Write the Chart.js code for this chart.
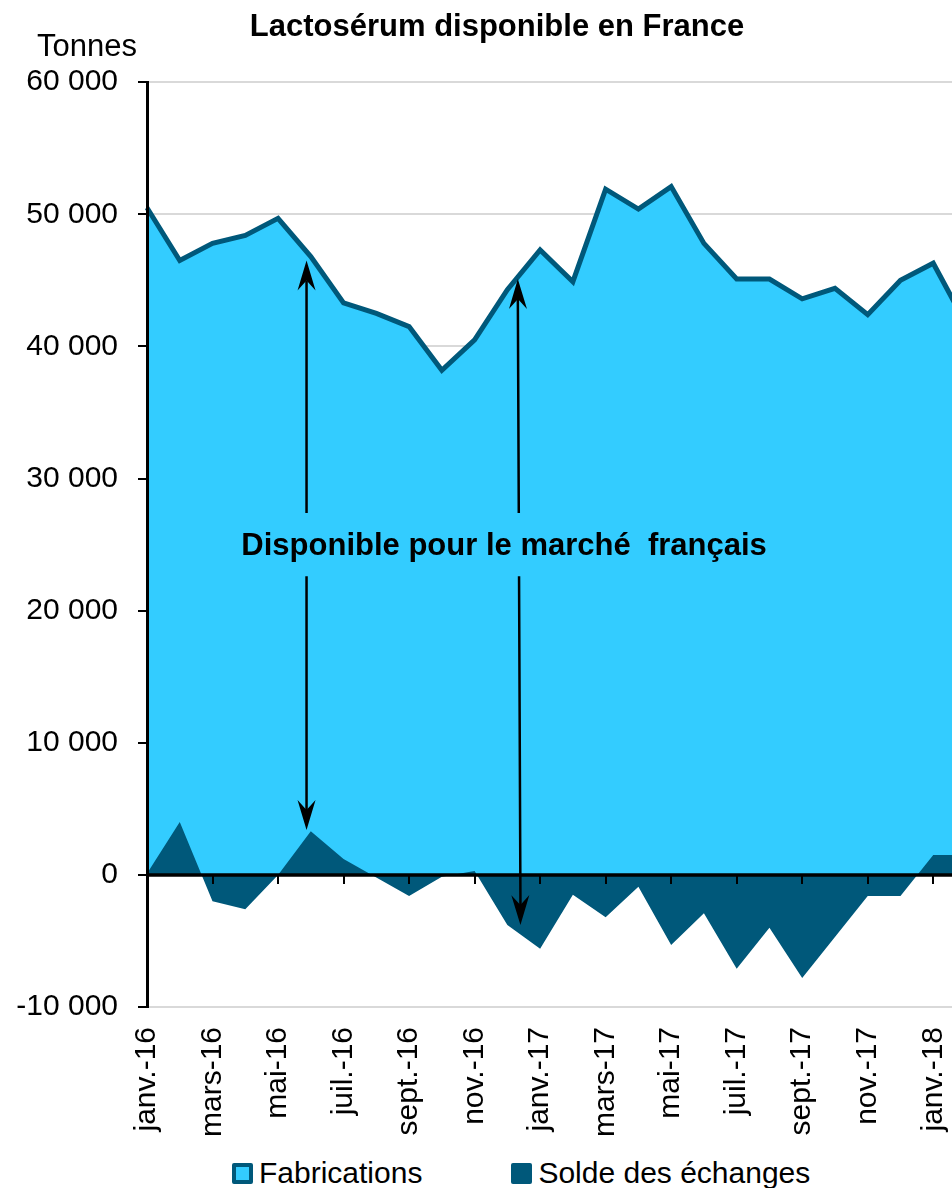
<!DOCTYPE html>
<html lang="fr">
<head>
<meta charset="utf-8">
<title>Lactosérum disponible en France</title>
<script src="https://cdn.jsdelivr.net/npm/chart.js@4.4.1/dist/chart.umd.min.js"></script>
<style>
  html, body { margin: 0; padding: 0; background: #fff; overflow: hidden; }
  #wrap { position: relative; width: 994px; height: 1188px; }
  #chartBox { position: absolute; left: 0; top: 0; width: 994px; height: 1150px; }
  #legend { position: absolute; left: 232px; top: 1158px; height: 30px; display: flex; align-items: center;
            font: 30px "Liberation Sans", Arial, sans-serif; color: #000; white-space: nowrap; }
  .item { display: flex; align-items: center; margin-right: 89px; line-height: 30px; }
  .box { width: 21px; height: 21px; box-sizing: border-box; margin-right: 6px; border-radius: 2px; }
</style>
</head>
<body>
<div id="wrap">
  <div id="chartBox"><canvas id="chart"></canvas></div>
  <div id="legend"></div>
</div>
<script>
'use strict'

const months = ['janv.-16', 'févr.-16', 'mars-16', 'avr.-16', 'mai-16', 'juin-16', 'juil.-16', 'août-16',
    'sept.-16', 'oct.-16', 'nov.-16', 'déc.-16', 'janv.-17', 'févr.-17', 'mars-17', 'avr.-17', 'mai-17',
    'juin-17', 'juil.-17', 'août-17', 'sept.-17', 'oct.-17', 'nov.-17', 'déc.-17', 'janv.-18', 'févr.-18'];
const fabrications = [50500, 46500, 47800, 48400, 49700, 46800, 43300, 42500, 41500, 38200, 40500, 44300,
    47300, 44900, 51900, 50400, 52100, 47800, 45100, 45100, 43600, 44400, 42400, 45000, 46300, 41700];
const solde = [100, 4000, -2000, -2600, 0, 3300, 1200, -200, -1600, -150, 300, -3800,
    -5600, -1500, -3200, -900, -5300, -2900, -7100, -4000, -7800, -4700, -1600, -1600, 1500, 1500];
const yMin = -10000;
const yMax = 60000;
const yStep = 10000;

const chartTitle = 'Lactosérum disponible en France';
const unitLabel = 'Tonnes';
const annotationText = 'Disponible pour le marché  français';

// annotation anchors, in axis units (month index, tonnes)
const annotationPos = { x: 10.9, y: 24250 };
const arrows = [
    { xTop: 4.87, top: 46500, xBottom: 4.87, bottom: 3400 },
    { xTop: 11.32, top: 45100, xBottom: 11.4, bottom: -3800 }
];
const arrowGap = { top: 27400, bottom: 22600 };

const lightBlue = '#33CCFF';
const darkBlue = '#00587A';
const fontFamily = '"Liberation Sans", Arial, sans-serif';

Chart.defaults.font.family = fontFamily;
Chart.defaults.color = '#000';

function formatTick(v){
    return String(v).replace(/\B(?=(\d{3})+(?!\d))/g, ' ');
}

function drawArrowHead(ctx, tipX, tipY, fromX, fromY){
    const ang = Math.atan2(tipY - fromY, tipX - fromX);
    ctx.save();
    ctx.translate(tipX, tipY);
    ctx.rotate(ang);
    ctx.beginPath();
    ctx.moveTo(0, 0);
    ctx.lineTo(-30, -9);
    ctx.lineTo(-20, 0);
    ctx.lineTo(-30, 9);
    ctx.closePath();
    ctx.fill();
    ctx.restore();
}

const extras = {
    id: 'extras',
    afterDatasetsDraw(chart){
        const ctx = chart.ctx;
        const xs = chart.scales.x;
        const ys = chart.scales.y;
        const area = chart.chartArea;
        ctx.save();

        // zero line with its tick marks
        const y0 = ys.getPixelForValue(0);
        ctx.strokeStyle = '#000';
        ctx.lineWidth = 3.5;
        ctx.beginPath();
        ctx.moveTo(area.left, y0);
        ctx.lineTo(area.right, y0);
        ctx.stroke();
        ctx.lineWidth = 2;
        ctx.beginPath();
        for (let i = 2; i < months.length; i += 2){
            const px = Math.round(xs.getPixelForValue(i));
            ctx.moveTo(px, y0);
            ctx.lineTo(px, y0 + 9);
        }
        ctx.stroke();

        // double arrows
        ctx.fillStyle = '#000';
        ctx.lineWidth = 2.5;
        for (let a of arrows){
            const x1 = xs.getPixelForValue(a.xTop);
            const y1 = ys.getPixelForValue(a.top);
            const x2 = xs.getPixelForValue(a.xBottom);
            const y2 = ys.getPixelForValue(a.bottom);
            const g1 = ys.getPixelForValue(arrowGap.top);
            const g2 = ys.getPixelForValue(arrowGap.bottom);
            const xAt = (yy) => x1 + (x2 - x1) * (yy - y1) / (y2 - y1);
            ctx.beginPath();
            ctx.moveTo(x1, y1 + 20);
            ctx.lineTo(xAt(g1), g1);
            ctx.moveTo(xAt(g2), g2);
            ctx.lineTo(x2, y2 - 20);
            ctx.stroke();
            drawArrowHead(ctx, x1, y1, x2, y2);
            drawArrowHead(ctx, x2, y2, x1, y1);
        }

        // annotation text
        ctx.font = 'bold 31px ' + fontFamily;
        ctx.textAlign = 'center';
        ctx.textBaseline = 'alphabetic';
        ctx.fillText(annotationText, xs.getPixelForValue(annotationPos.x), ys.getPixelForValue(annotationPos.y));

        // unit above the axis
        ctx.font = '31px ' + fontFamily;
        ctx.fillText(unitLabel, area.left - 60, area.top - 26);
        ctx.restore();
    }
};

const chart = new Chart(document.getElementById('chart'), {
    type: 'line',
    data: {
        labels: months,
        datasets: [{
            label: 'Fabrications',
            data: fabrications,
            fill: 'origin',
            backgroundColor: lightBlue,
            borderColor: darkBlue,
            borderWidth: 5,
            pointRadius: 0,
            tension: 0,
            order: 1
        },
        {
            label: 'Solde des échanges',
            data: solde,
            fill: 'origin',
            backgroundColor: darkBlue,
            borderColor: darkBlue,
            borderWidth: 0,
            pointRadius: 0,
            tension: 0,
            order: 0
        }]
    },
    options: {
        responsive: true,
        maintainAspectRatio: false,
        animation: false,
        layout: {
            padding: { left: 0, right: 0, top: 0, bottom: 15 }
        },
        scales: {
            x: {
                offset: false,
                grid: { display: false, drawTicks: false },
                border: { display: false },
                afterFit: (scale) => {
                    scale.height = 128;
                    scale.paddingLeft = 0;
                    scale.paddingRight = 28;
                },
                ticks: {
                    autoSkip: false,
                    minRotation: 90,
                    maxRotation: 90,
                    padding: 20,
                    font: { size: 30 },
                    color: '#000',
                    callback: (val, i) => i % 2 === 0 ? months[i] : ''
                }
            },
            y: {
                min: yMin,
                max: yMax,
                afterFit: (scale) => { scale.width = 147; },
                grid: {
                    color: '#D9D9D9',
                    lineWidth: 2,
                    tickColor: '#000',
                    tickLength: 9,
                    tickWidth: 2
                },
                border: { color: '#000', width: 3, z: 1 },
                ticks: {
                    stepSize: yStep,
                    padding: 20,
                    font: { size: 30 },
                    color: '#000',
                    callback: (v) => formatTick(v)
                }
            }
        },
        plugins: {
            legend: { display: false },
            tooltip: { enabled: false },
            title: {
                display: true,
                text: chartTitle,
                color: '#000',
                font: { size: 31, weight: 'bold' },
                padding: { top: 9, bottom: 36 }
            }
        }
    },
    plugins: [extras]
});

function buildLegend(){
    const legend = document.getElementById('legend');
    for (let ds of chart.data.datasets){
        let item = document.createElement('div');
        item.className = 'item';
        let box = document.createElement('span');
        box.className = 'box';
        box.style.background = ds.backgroundColor;
        if (ds.borderWidth > 0){
            box.style.border = '4px solid ' + ds.borderColor;
        }
        let text = document.createElement('span');
        text.textContent = ds.label;
        item.appendChild(box);
        item.appendChild(text);
        legend.appendChild(item);
    }
}

buildLegend();
</script>
</body>
</html>
